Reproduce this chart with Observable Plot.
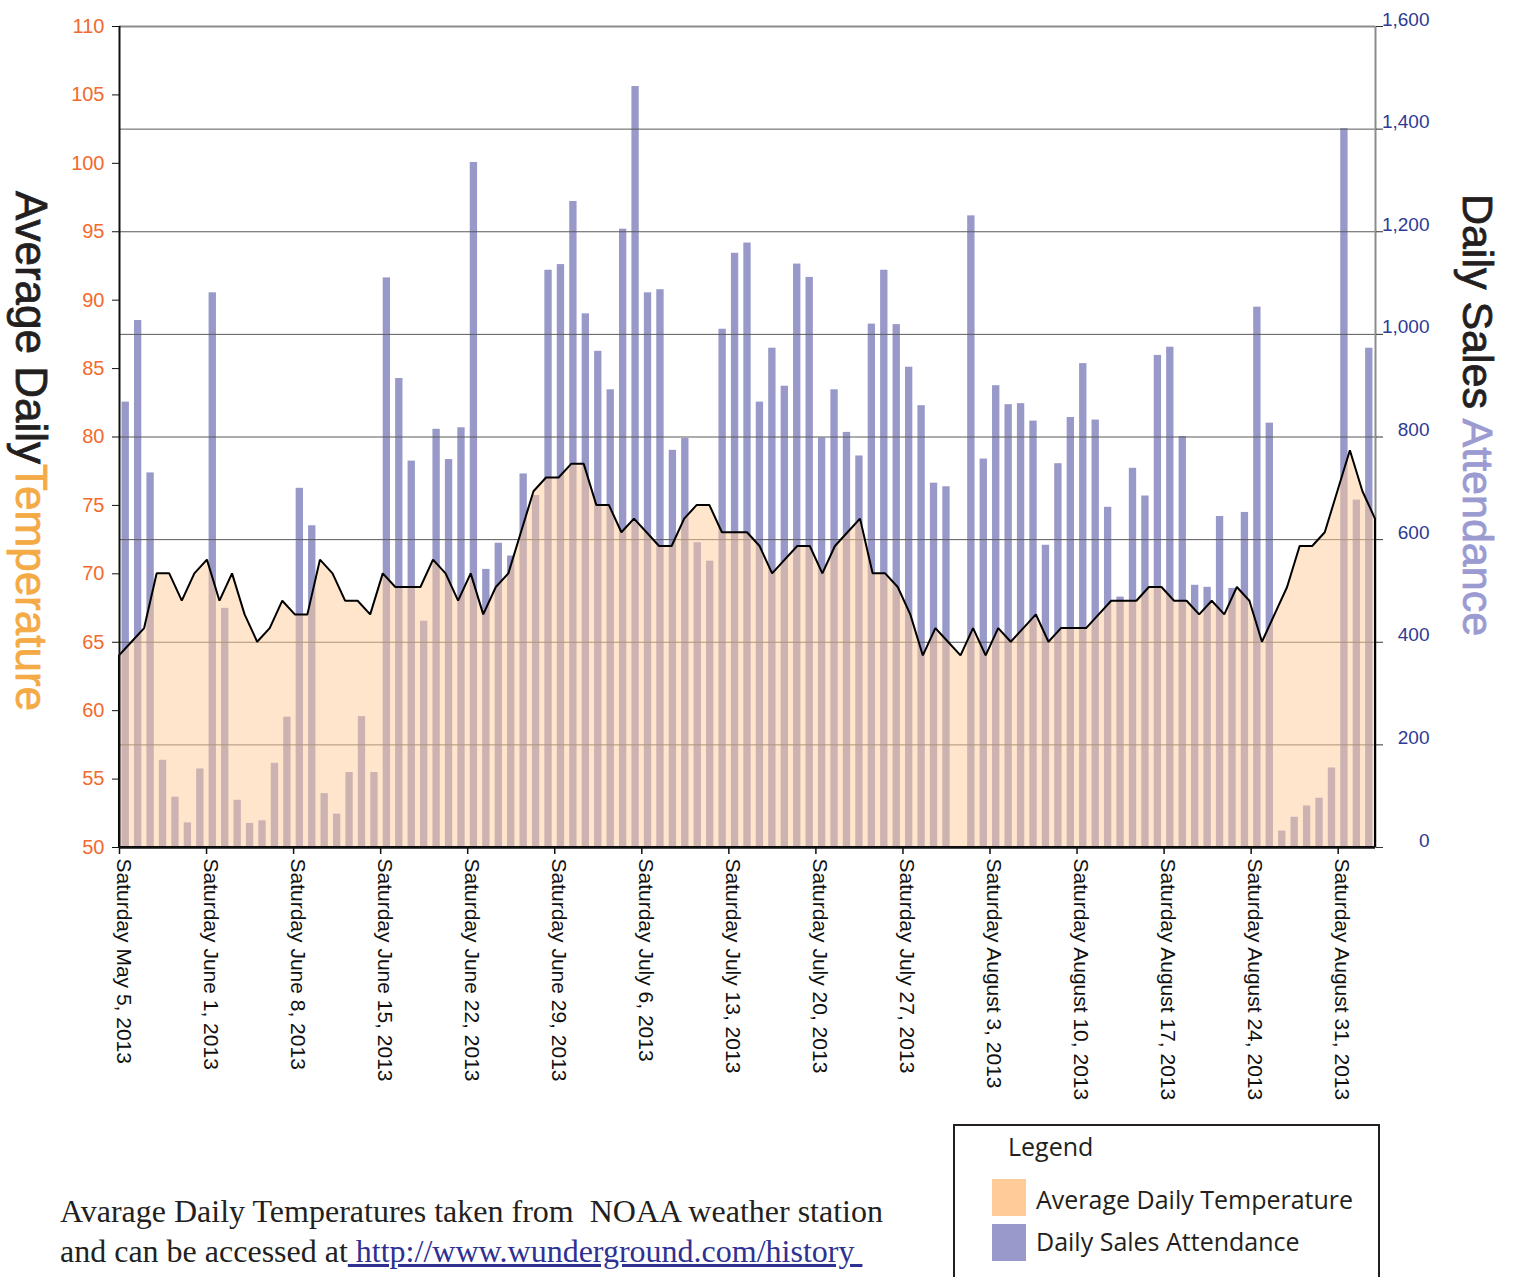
<!DOCTYPE html>
<html>
<head>
<meta charset="utf-8">
<script src="https://cdn.jsdelivr.net/npm/d3@7"></script>
<script src="https://cdn.jsdelivr.net/npm/@observablehq/plot@0.6"></script>
<style>
  html, body { margin: 0; padding: 0; background: #ffffff; }
  body { width: 1517px; height: 1277px; overflow: hidden; position: relative; }
  #chart { position: absolute; left: 0; top: 0; }
  .capline { position: absolute; left: 60px; font-family: "Liberation Serif", "Times New Roman", serif;
             font-size: 32px; line-height: 40px; height: 40px; color: #231f20; white-space: pre; }
  #cap1 { top: 1191px; }
  #cap2 { top: 1231px; }
  #cap2 a { color: #2e3192; text-decoration: underline; }
  #legend { position: absolute; left: 953px; top: 1124px; }
</style>
</head>
<body>
<div id="chart"></div>
<div class="capline" id="cap1">Avarage Daily Temperatures taken from  NOAA weather station</div>
<div class="capline" id="cap2"><span>and can be accessed at</span><a href="#"> http://www.wunderground.com/history </a></div>
<div id="legend"></div>
<script>
// ---- Data ----
const attendance = [
  868, 1027, 730, 170, 98, 48, 153,
  1081, 466, 92, 47, 52, 164, 254,
  700, 627, 105, 65, 146, 255, 146,
  1110, 914, 753, 441, 815, 756, 818,
  1335, 542, 593, 568, 728, 686, 1125,
  1136, 1259, 1040, 967, 892, 1205, 1483,
  1081, 1087, 774, 797, 594, 558, 1010,
  1158, 1178, 868, 973, 899, 1137, 1111,
  798, 892, 809, 763, 1020, 1125, 1019,
  936, 861, 710, 703, 0, 1231, 757,
  900, 863, 865, 831, 589, 748, 838,
  943, 833, 663, 488, 739, 685, 959,
  975, 801, 511, 507, 645, 505, 653,
  1053, 827, 32, 59, 81, 96, 155,
  1401, 677, 973
];
const temperature = [
  64, 65, 66, 70, 70, 68, 70,
  71, 68, 70, 67, 65, 66, 68,
  67, 67, 71, 70, 68, 68, 67,
  70, 69, 69, 69, 71, 70, 68,
  70, 67, 69, 70, 73, 76, 77,
  77, 78, 78, 75, 75, 73, 74,
  73, 72, 72, 74, 75, 75, 73,
  73, 73, 72, 70, 71, 72, 72,
  70, 72, 73, 74, 70, 70, 69,
  67, 64, 66, 65, 64, 66, 64,
  66, 65, 66, 67, 65, 66, 66,
  66, 67, 68, 68, 68, 69, 69,
  68, 68, 67, 68, 67, 69, 68,
  65, 67, 69, 72, 72, 73, 76,
  79, 76, 74
];
const tickLabels = [
  "Saturday May 5, 2013", "Saturday June 1, 2013", "Saturday June 8, 2013",
  "Saturday June 15, 2013", "Saturday June 22, 2013", "Saturday June 29, 2013",
  "Saturday July 6, 2013", "Saturday July 13, 2013", "Saturday July 20, 2013",
  "Saturday July 27, 2013", "Saturday August 3, 2013", "Saturday August 10, 2013",
  "Saturday August 17, 2013", "Saturday August 24, 2013", "Saturday August 31, 2013"
];
const tempTicks = [50, 55, 60, 65, 70, 75, 80, 85, 90, 95, 100, 105, 110];
const attTicks = [0, 200, 400, 600, 800, 1000, 1200, 1400, 1600];
const gridValues = [200, 400, 600, 800, 1000, 1200, 1400];

// ---- Helpers ----
const tMin = 50, tMax = 110, aMax = 1600;
const toAtt = t => (t - tMin) * aMax / (tMax - tMin);
const toTemp = a => Math.round(tMin + a * (tMax - tMin) / aMax);
const nDays = attendance.length;
const tempX = (d, i) => i * nDays / (temperature.length - 1);
const tickDays = tickLabels.map((_, i) => i * 7);

const ORANGE_TICK = "#f26a2e";
const BLUE_TICK = "#2e3a94";

const chart = Plot.plot({
  width: 1517,
  height: 1110,
  marginLeft: 119,
  marginRight: 142,
  marginTop: 26,
  marginBottom: 263,
  style: { fontFamily: "'Liberation Sans', Arial, sans-serif", background: "transparent", overflow: "visible" },
  x: { domain: [0, nDays] },
  y: { domain: [0, aMax] },
  marks: [
    Plot.rectY(attendance, {
      x1: (d, i) => i, x2: (d, i) => i + 1, y: d => d,
      insetLeft: 2.55, insetRight: 2.55, fill: "#9898c9"
    }),
    Plot.ruleY(gridValues, { stroke: "#5a5a5a", strokeWidth: 1 }),
    Plot.ruleY([aMax], { stroke: "#8c8c8c", strokeWidth: 2 }),
    Plot.ruleX([nDays], { stroke: "#8c8c8c", strokeWidth: 2 }),
    Plot.areaY(temperature, {
      x: tempX, y: d => toAtt(d),
      fill: "#ffcc99", fillOpacity: 0.5, stroke: "#000000", strokeWidth: 2, strokeLinejoin: "miter"
    }),
    Plot.ruleX([0], { stroke: "#111111", strokeWidth: 2 }),
    Plot.ruleY([0], { stroke: "#111111", strokeWidth: 2.5 }),
    // x ticks + rotated labels
    Plot.axisX({ ticks: tickDays, tickSize: 7, stroke: "#111111", strokeWidth: 1.5, fill: "none", label: null }),
    Plot.text(tickDays, {
      x: d => d, text: (d, i) => tickLabels[i], frameAnchor: "bottom",
      rotate: 90, textAnchor: "start", lineAnchor: "middle",
      dx: 4, dy: 11, fontSize: 21, fill: "#111111"
    }),
    // left (temperature) axis
    Plot.axisY({ anchor: "left", ticks: tempTicks.map(toAtt), tickSize: 7, stroke: "#111111", fill: "none", label: null }),
    Plot.axisY({
      anchor: "left", ticks: tempTicks.map(toAtt), tickSize: 0, tickPadding: 15,
      tickFormat: toTemp, fill: ORANGE_TICK, fontSize: 20, label: null
    }),
    // right (attendance) axis
    Plot.axisY({ anchor: "right", ticks: attTicks, tickSize: 7, stroke: "#333333", fill: "none", label: null }),
    Plot.axisY({
      anchor: "right", ticks: attTicks, tickSize: 0, tickPadding: 0,
      textAnchor: "end", dx: 54, dy: -7,
      tickFormat: d3.format(","), fill: BLUE_TICK, fontSize: 19, label: null
    })
  ]
});

// Axis titles (two-colour, rotated)
const svg = d3.select(chart);
const lt = svg.append("text")
  .attr("transform", "translate(16,451) rotate(90)")
  .attr("text-anchor", "middle")
  .attr("font-size", 44)
  .attr("stroke-width", 0.8)
  .attr("font-family", "'Liberation Sans', Arial, sans-serif");
lt.append("tspan").attr("fill", "#231f20").attr("stroke", "#231f20").text("Average Daily");
lt.append("tspan").attr("fill", "#f4aa45").attr("stroke", "#f4aa45").text("Temperature");

const rt = svg.append("text")
  .attr("transform", "translate(1463,415) rotate(90)")
  .attr("text-anchor", "middle")
  .attr("font-size", 43)
  .attr("stroke-width", 0.8)
  .attr("font-family", "'Liberation Sans', Arial, sans-serif");
rt.append("tspan").attr("fill", "#231f20").attr("stroke", "#231f20").text("Daily Sales ");
rt.append("tspan").attr("fill", "#9b9bd1").attr("stroke", "#9b9bd1").text("Attendance");

document.getElementById("chart").appendChild(chart);

// Legend
const legendItems = ["Average Daily Temperature", "Daily Sales Attendance"];
const legendColors = ["#ffcc99", "#9999cc"];
const lg = d3.select("#legend").append("svg")
  .attr("width", 430).attr("height", 160)
  .style("font-family", "'Open Sans', 'Noto Sans', sans-serif");
lg.append("rect").attr("x", 1).attr("y", 1).attr("width", 425).attr("height", 200)
  .attr("fill", "white").attr("stroke", "#231f20").attr("stroke-width", 2);
lg.append("text").attr("x", 55).attr("y", 32).attr("font-size", 25).attr("fill", "#231f20").text("Legend");
legendItems.forEach((name, i) => {
  lg.append("rect").attr("x", 39).attr("y", 55 + i * 45).attr("width", 34).attr("height", 37).attr("fill", legendColors[i]);
  lg.append("text").attr("x", 83).attr("y", 85 + i * 42).attr("font-size", 25).attr("fill", "#231f20").text(name);
});
</script>
</body>
</html>
